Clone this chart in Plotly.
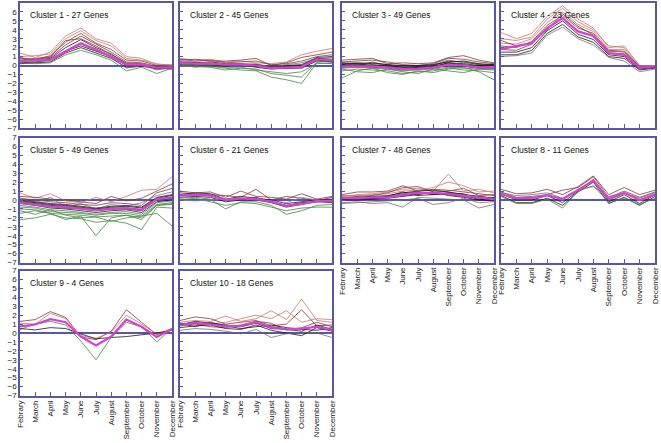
import plotly.graph_objects as go

months = ["Febrary", "March", "April", "May", "June", "July", "August",
          "September", "October", "November", "December"]

titles = ["Cluster 1 - 27 Genes", "Cluster 2 - 45 Genes", "Cluster 3 - 49 Genes",
          "Cluster 4 - 23 Genes", "Cluster 5 - 49 Genes", "Cluster 6 - 21 Genes",
          "Cluster 7 - 48 Genes", "Cluster 8 - 11 Genes", "Cluster 9 - 4 Genes",
          "Cluster 10 - 18 Genes"]

c1_lines = [
    [1.4, 0.9, 1.5, 3.3, 4.2, 3.0, 2.5, 1.0, 0.8, 0.1, 0.1],
    [1.0, 1.1, 1.3, 3.0, 3.9, 2.8, 2.2, 0.8, 0.6, 0.2, 0.0],
    [0.8, 0.7, 1.1, 2.6, 3.6, 2.5, 1.8, 0.6, 0.5, 0.0, -0.1],
    [0.6, 0.8, 0.9, 2.3, 3.3, 2.4, 1.5, 0.4, 0.3, -0.1, -0.2],
    [0.5, 0.6, 0.8, 2.0, 2.9, 2.0, 1.3, 0.2, 0.1, -0.3, -0.2],
    [0.3, 0.4, 0.6, 1.6, 2.2, 1.6, 1.0, 0.0, 0.1, -0.4, -0.3],
    [0.2, 0.3, 0.4, 1.4, 2.0, 1.4, 0.8, -0.2, -0.1, -0.3, -0.4],
    [0.3, 0.2, 0.3, 1.2, 1.7, 1.2, 0.6, -0.6, -0.2, -0.9, -0.3],
    [0.6, 0.5, 0.5, 1.5, 2.4, 1.7, 0.9, -0.3, 0.0, -0.5, -0.2],
    [0.9, 0.6, 1.0, 2.8, 3.0, 2.2, 1.2, 0.3, 0.2, -0.2, -0.1],
]
c1_mean = [0.5, 0.55, 0.65, 1.6, 2.5, 1.8, 1.0, 0.1, 0.1, -0.25, -0.2]

c2_lines = [
    [0.8, 0.6, 0.7, 0.4, 0.5, 0.3, 0.2, 0.4, 1.2, 1.6, 1.9],
    [0.6, 0.7, 0.5, 0.5, 0.6, 0.8, 0.0, 0.3, 0.9, 1.2, 1.5],
    [0.4, 0.3, 0.4, 0.2, 0.2, 0.1, -0.1, 0.0, 0.1, 0.9, 1.0],
    [0.2, 0.1, 0.0, 0.1, 0.0, -0.1, -0.3, -0.2, -0.1, 0.7, 0.6],
    [0.1, 0.0, -0.1, -0.1, 0.1, -0.2, -0.4, -0.3, -0.3, 0.5, 0.4],
    [0.5, 0.4, 0.3, 0.0, 0.1, 0.2, -0.2, 0.1, 0.3, 0.8, 0.9],
    [0.0, -0.1, -0.2, -0.5, -0.3, -0.4, -0.9, -1.1, -1.3, 0.4, 0.5],
    [-0.1, 0.0, -0.1, -0.3, -0.5, -0.6, -1.3, -1.6, -2.0, 0.3, 0.2],
    [0.1, -0.2, 0.0, -0.2, -0.2, -0.5, -0.7, -0.9, -0.7, 0.2, 0.3],
    [0.7, 0.5, 0.6, 0.3, 0.4, 0.5, 0.1, 0.2, 0.5, 1.0, 1.2],
    [0.3, 0.2, 0.2, 0.1, 0.1, 0.0, -0.2, -0.1, 0.0, 0.8, 0.7],
    [0.2, 0.3, 0.1, 0.0, 0.0, 0.1, -0.3, -0.3, -0.2, 0.6, 0.5],
]
c2_mean = [0.3, 0.2, 0.2, 0.1, 0.1, 0.0, -0.3, -0.2, -0.15, 0.7, 0.6]

c3_lines = [
    [0.6, 0.7, 0.8, 0.2, 0.3, 0.2, 0.3, 0.9, 1.1, 0.6, 0.3],
    [0.4, 0.5, 0.6, 0.4, 0.1, 0.0, 0.2, 0.8, 0.7, 0.4, 0.2],
    [0.2, 0.3, 0.2, 0.1, -0.2, -0.1, 0.0, 0.5, 0.4, 0.1, 0.1],
    [0.0, 0.1, 0.0, -0.1, -0.3, -0.3, -0.1, 0.2, 0.1, -0.2, -0.1],
    [-0.2, -0.1, -0.2, -0.3, -0.5, -0.4, -0.3, 0.0, -0.1, -0.3, -0.3],
    [0.3, 0.0, 0.4, 0.0, -0.1, -0.2, 0.1, 0.6, 0.3, 0.2, -0.2],
    [-0.6, -0.4, -0.5, -0.6, -0.9, -0.7, -0.6, -0.3, -0.5, -0.6, -0.8],
    [-1.4, -0.6, -0.3, -0.8, -1.0, -0.6, -0.8, -0.4, -0.2, -0.7, -1.6],
    [-0.4, -0.7, -0.8, -0.4, -0.7, -0.9, -0.4, -0.6, -0.8, -0.4, -0.5],
    [0.1, -0.2, 0.1, -0.2, -0.4, -0.2, -0.2, 0.3, 0.0, -0.1, 0.0],
    [0.1, 0.2, 0.0, 0.0, -0.2, -0.2, -0.1, 0.3, 0.2, 0.0, 0.0],
    [-0.1, 0.0, -0.1, -0.2, -0.4, -0.3, -0.2, 0.1, 0.0, -0.2, -0.2],
    [-0.3, -0.2, -0.3, -0.4, -0.6, -0.5, -0.4, -0.2, -0.3, -0.4, -0.4],
    [0.3, 0.2, 0.3, 0.1, 0.0, 0.0, 0.1, 0.4, 0.5, 0.2, 0.1],
]
c3_mean = [-0.1, -0.1, -0.1, -0.2, -0.4, -0.35, -0.2, 0.1, 0.0, -0.2, -0.15]

c4_lines = [
    [3.7, 3.0, 3.6, 5.5, 6.7, 5.2, 4.2, 2.0, 2.2, 0.0, 0.0],
    [3.0, 2.8, 3.2, 5.2, 6.4, 4.9, 4.0, 2.2, 2.0, -0.1, -0.1],
    [2.5, 2.4, 3.0, 4.8, 6.0, 4.6, 3.8, 1.8, 1.8, -0.2, -0.1],
    [2.2, 2.0, 2.7, 4.5, 5.6, 4.2, 3.6, 1.6, 1.5, -0.2, -0.2],
    [1.8, 1.7, 2.4, 4.2, 5.3, 3.9, 3.3, 1.4, 1.3, -0.3, -0.2],
    [1.5, 1.5, 2.0, 3.9, 5.0, 3.5, 2.9, 1.2, 1.0, -0.4, -0.2],
    [1.2, 1.2, 1.7, 3.6, 4.6, 3.2, 2.6, 1.0, 0.8, -0.5, -0.3],
    [1.0, 1.1, 1.4, 3.4, 4.3, 3.0, 2.3, 0.9, 0.5, -0.7, -0.4],
    [2.8, 2.2, 2.5, 4.0, 5.8, 4.4, 3.4, 1.7, 1.6, -0.1, -0.1],
]
c4_mean = [1.85, 2.15, 2.5, 4.2, 5.3, 3.8, 3.3, 1.4, 1.2, -0.25, -0.1]

c5_lines = [
    [0.8, 0.2, 0.7, -0.1, -0.3, 0.3, -0.2, 0.4, 1.1, 1.2, 2.6],
    [0.4, 0.3, 0.1, 0.0, -0.2, -0.4, 0.4, -0.1, 0.2, 1.0, 1.8],
    [0.2, 0.0, -0.2, -0.3, -0.5, -0.6, -0.3, -0.4, -0.6, 0.8, 1.3],
    [0.0, -0.2, -0.4, -0.5, -0.7, -0.9, -0.7, -0.6, -0.8, 0.3, 0.6],
    [-0.2, -0.4, -0.6, -0.7, -0.9, -1.1, -0.9, -0.9, -1.1, 0.1, 0.3],
    [-0.4, -0.6, -0.9, -1.0, -1.2, -1.4, -1.2, -1.1, -1.4, -0.2, 0.0],
    [-0.8, -0.9, -1.3, -1.4, -1.5, -1.7, -1.5, -1.5, -1.8, -0.5, -0.3],
    [-1.5, -1.2, -1.5, -2.2, -1.8, -4.0, -2.0, -1.7, -2.2, -0.6, -0.5],
    [-2.2, -2.0, -1.6, -2.0, -2.1, -2.5, -2.3, -2.6, -3.3, -0.8, -0.9],
    [-1.2, -1.6, -1.1, -1.7, -2.0, -1.9, -2.4, -2.0, -1.8, -1.5, -2.9],
    [0.1, -0.3, 0.3, -0.8, -0.4, -1.0, -0.5, -0.7, -0.3, 0.5, 0.9],
    [-0.1, -0.3, -0.5, -0.6, -0.8, -1.0, -0.8, -0.7, -0.9, 0.2, 0.5],
    [-0.3, -0.5, -0.7, -0.9, -1.0, -1.2, -1.0, -1.0, -1.2, 0.0, 0.2],
    [-0.6, -0.8, -1.1, -1.2, -1.4, -1.6, -1.4, -1.3, -1.6, -0.3, -0.1],
    [-1.0, -1.1, -1.5, -1.6, -1.7, -1.9, -1.8, -1.7, -2.0, -0.6, -0.4],
]
c5_mean = [-0.3, -0.5, -0.75, -0.8, -1.0, -1.15, -1.0, -0.9, -1.1, 0.1, 0.3]

c6_lines = [
    [1.0, 0.8, 0.9, 0.3, 1.0, 0.4, 0.3, 0.1, 0.7, 0.1, 0.4],
    [0.8, 0.7, 0.6, 0.5, 0.3, 1.2, 0.0, 0.4, 0.2, -0.1, 0.3],
    [0.6, 0.8, 0.7, 0.1, 0.4, 0.2, 0.0, -0.4, -0.2, 0.0, 0.1],
    [0.5, 0.6, 0.5, 0.0, 0.1, 0.3, -0.2, -0.6, -0.3, -0.2, -0.1],
    [0.3, 0.4, 0.3, -0.2, 0.0, 0.0, -0.3, -0.8, -0.5, -0.2, -0.3],
    [0.2, 0.3, 0.1, -1.0, -0.2, -0.2, -0.6, -1.6, -1.2, -0.6, -0.5],
    [0.0, 0.2, -0.2, -0.6, -0.3, -0.4, -0.8, -1.2, -0.9, -0.8, -0.8],
    [0.0, -0.1, 0.0, 0.1, 0.2, 0.0, -0.1, -0.3, 0.3, 0.0, -0.2],
]
c6_mean = [0.5, 0.6, 0.5, 0.0, 0.15, 0.15, -0.2, -0.65, -0.45, -0.1, -0.1]

c7_lines = [
    [0.4, 0.6, 0.7, 0.9, 1.2, 1.3, 1.0, 2.9, 1.0, 1.2, 0.8],
    [0.5, 0.5, 0.6, 0.7, 1.0, 1.1, 1.4, 2.0, 1.6, 0.9, 1.0],
    [0.6, 0.9, 0.9, 1.0, 1.6, 1.0, 1.2, 1.1, 0.9, 0.7, 0.5],
    [0.3, 0.4, 0.5, 0.8, 1.4, 1.5, 0.9, 1.0, 1.3, 0.5, 0.6],
    [0.2, 0.3, 0.4, 0.5, 0.8, 1.0, 1.1, 0.9, 0.6, 0.4, 0.2],
    [0.1, 0.1, 0.2, 0.3, 0.6, 0.8, 0.7, 0.6, 0.4, 0.2, 0.0],
    [0.0, 0.0, 0.1, 0.2, 0.4, 0.6, 0.9, 0.5, 0.3, 0.0, 0.3],
    [-0.3, -0.2, -0.4, -0.3, -0.8, 0.3, 0.2, 0.1, 0.0, -0.9, -0.5],
    [-0.4, -0.3, -0.2, -0.1, 0.0, 0.2, -0.5, -0.3, 0.2, -0.3, -0.2],
    [0.2, 0.3, 0.1, 0.4, 0.9, 0.5, 0.6, 0.8, 0.7, 0.0, -0.1],
    [0.1, 0.2, 0.2, 0.4, 0.5, 0.7, 0.8, 0.7, 0.5, 0.3, 0.1],
    [0.3, 0.2, 0.4, 0.3, 0.7, 0.9, 0.6, 0.8, 0.6, 0.4, 0.2],
]
c7_mean = [0.2, 0.2, 0.3, 0.3, 0.6, 0.8, 0.8, 0.7, 0.5, 0.3, 0.1]

c8_lines = [
    [1.2, 0.7, 0.8, 1.2, 0.6, 1.5, 2.7, 0.6, 1.4, 0.6, 1.1],
    [0.9, 0.3, 0.4, 0.6, 1.1, 1.4, 2.6, 0.3, 1.0, 0.3, 0.9],
    [0.7, 0.0, 0.0, 0.5, -0.3, 1.0, 2.3, -0.2, 0.6, -0.4, 0.6],
    [0.5, -0.3, -0.3, 0.2, -0.6, 0.9, 2.0, -0.4, 0.3, -0.6, 0.4],
    [0.4, -0.4, -0.4, 0.1, -0.9, 1.0, 1.6, -0.3, 0.2, -0.5, 0.2],
    [0.8, 0.5, 0.6, 0.8, 0.2, 1.2, 1.5, 0.4, 0.8, 0.2, 0.8],
]
c8_mean = [0.65, 0.2, 0.2, 0.55, 0.1, 1.1, 2.2, 0.1, 0.8, 0.0, 0.6]

c9_lines = [
    [1.3, 1.5, 2.4, 1.75, -0.45, -0.75, 0.2, 2.6, 1.2, -0.2, 0.4],
    [1.1, 1.0, 2.2, 1.6, -0.3, -0.6, 0.1, 2.0, 1.0, -0.1, 0.5],
    [0.4, 1.0, 1.3, 0.9, -0.9, -3.0, -0.5, 1.2, 0.7, -1.0, 0.5],
    [0.5, 0.35, 0.6, 0.5, -0.1, -0.65, -0.5, -0.4, -0.2, 0.0, 0.3],
]
c9_mean = [0.75, 0.95, 1.55, 1.2, -0.4, -1.4, -0.4, 1.5, 0.7, -0.45, 0.45]

c10_lines = [
    [1.2, 1.4, 1.3, 1.9, 1.3, 1.6, 2.5, 1.5, 3.8, 1.4, 1.2],
    [1.0, 1.2, 1.0, 1.2, 1.6, 2.0, 1.6, 2.5, 1.2, 1.6, 1.5],
    [1.4, 1.8, 1.6, 1.0, 1.2, 1.4, 0.8, 1.0, 2.6, 0.8, 0.9],
    [0.8, 1.0, 0.7, 0.6, 0.9, 1.3, 1.1, 0.3, 0.6, 1.2, 0.7],
    [0.9, 1.3, 1.1, 0.9, 0.7, 1.1, 0.5, 0.4, 0.2, 0.9, 0.4],
    [0.6, 0.8, 0.9, 0.5, 0.4, 0.9, 0.3, 0.0, -0.3, 0.6, 0.2],
    [0.3, 0.5, 0.4, 0.2, -0.1, 0.4, -0.5, -0.1, 0.1, 0.0, -0.5],
    [1.1, 0.7, 1.2, 0.8, 0.5, 0.7, 0.9, 0.6, 0.4, 0.3, 0.6],
]
c10_mean = [0.9, 1.1, 0.95, 0.75, 0.8, 1.2, 0.65, 0.45, 0.5, 0.7, 0.35]

# style keys per line (colour class)
c1_keys = ["s", "s", "b", "b", "k", "k", "k", "g", "y", "b"]
c2_keys = ["s", "b", "k", "k", "k", "y", "g", "g", "g", "b", "k", "k"]
c3_keys = ["b", "b", "k", "k", "k", "y", "g", "g", "g", "k", "k", "k", "g", "k"]
c4_keys = ["s", "s", "s", "b", "b", "k", "k", "y", "b"]
c5_keys = ["s", "b", "b", "k", "k", "k", "g", "g", "g", "g", "y", "k", "k", "g", "g"]
c6_keys = ["b", "b", "k", "k", "k", "g", "g", "v"]
c7_keys = ["s", "s", "b", "b", "k", "k", "k", "y", "y", "k", "k", "k"]
c8_keys = ["b", "b", "k", "k", "g", "y"]
c9_keys = ["b", "s", "g", "k"]
c10_keys = ["s", "s", "b", "b", "k", "k", "y", "k"]

palette = {"s": "rgba(200,120,110,0.8)", "b": "rgba(130,60,55,0.8)",
           "k": "rgba(30,25,25,0.8)", "y": "rgba(110,105,105,0.75)",
           "g": "rgba(70,135,70,0.8)", "v": "rgba(130,130,200,0.8)"}
mean_color = "#d83fd8"
frame = "#5757a6"

clusters = [
    (c1_lines, c1_mean, c1_keys), (c2_lines, c2_mean, c2_keys),
    (c3_lines, c3_mean, c3_keys), (c4_lines, c4_mean, c4_keys),
    (c5_lines, c5_mean, c5_keys), (c6_lines, c6_mean, c6_keys),
    (c7_lines, c7_mean, c7_keys), (c8_lines, c8_mean, c8_keys),
    (c9_lines, c9_mean, c9_keys), (c10_lines, c10_mean, c10_keys),
]

W, H = 661, 443
cols_px = [(20, 172), (180, 332), (342, 494), (501, 655)]
rows_px = [(3, 128), (137.5, 262.5), (270.5, 395.5)]
xlabel_panels = {6, 7, 8, 9}

fig = go.Figure()
layout = {}
xidx = list(range(len(months)))
for i, (lines, mean, keys) in enumerate(clusters):
    r, c = divmod(i, 4)
    n = i + 1
    xa = "x" if n == 1 else f"x{n}"
    ya = "y" if n == 1 else f"y{n}"
    for vals, k in zip(lines, keys):
        fig.add_trace(go.Scatter(x=xidx, y=vals, mode="lines", xaxis=xa, yaxis=ya,
                                 line=dict(color=palette[k], width=1),
                                 showlegend=False, hoverinfo="skip"))
    fig.add_trace(go.Scatter(x=xidx, y=mean, mode="lines", xaxis=xa, yaxis=ya,
                             line=dict(color=mean_color, width=2.2),
                             showlegend=False, hoverinfo="skip"))
    x0, x1 = cols_px[c]
    y0, y1 = rows_px[r]
    layout["xaxis" if n == 1 else f"xaxis{n}"] = dict(
        domain=[x0 / W, x1 / W], range=[0, 10], anchor=ya, automargin=False,
        tickvals=xidx, ticktext=months, tickangle=-90,
        showticklabels=(i in xlabel_panels),
        ticks="inside", ticklen=4, tickcolor=frame, tickwidth=1,
        showline=True, linecolor=frame, linewidth=1.5, mirror=True,
        showgrid=False, zeroline=False,
        tickfont=dict(family="Liberation Sans, Arial", size=8, color="#222"))
    layout["yaxis" if n == 1 else f"yaxis{n}"] = dict(
        domain=[1 - y1 / H, 1 - y0 / H], range=[-7, 7], anchor=xa, automargin=False,
        tickvals=list(range(-7, 8)), showticklabels=(c == 0),
        ticks="inside", ticklen=3, tickcolor=frame, tickwidth=1,
        showline=True, linecolor=frame, linewidth=1.5, mirror=True,
        showgrid=False, zeroline=True, zerolinecolor=frame, zerolinewidth=1.5,
        tickfont=dict(family="Liberation Sans, Arial", size=8, color="#222"))
    fig.add_annotation(text=titles[i], xref="paper", yref="paper",
                       x=(x0 + 8) / W, y=1 - (y0 + 12) / H,
                       xanchor="left", yanchor="middle", showarrow=False,
                       font=dict(family="Liberation Sans, Arial", size=8.5, color="#111"))

fig.update_layout(width=W, height=H, margin=dict(l=0, r=0, t=0, b=0),
                  paper_bgcolor="white", plot_bgcolor="white", **layout)
fig.write_html("out.html", config={"displayModeBar": False},
               post_script="document.body.style.margin='0px';document.body.style.overflow='hidden';")
